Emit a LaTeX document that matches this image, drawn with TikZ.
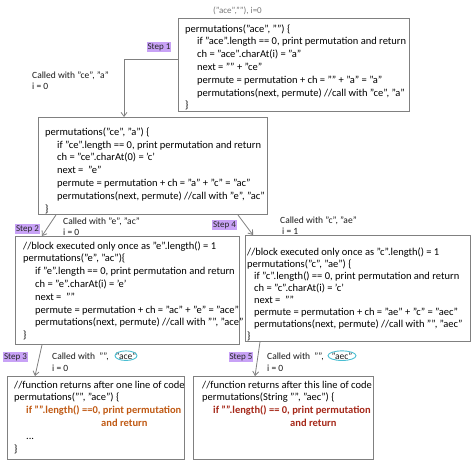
\documentclass[tikz,border=0pt]{standalone}
\usepackage{fontspec}
\setmainfont{Carlito}
\usetikzlibrary{arrows.meta}
\definecolor{boxgray}{RGB}{128,128,128}
\definecolor{steppurple}{RGB}{200,162,246}
\definecolor{ovalcyan}{RGB}{75,190,210}
\definecolor{codeorange}{RGB}{192,90,20}
\definecolor{codered}{RGB}{165,40,25}
\definecolor{notegray}{RGB}{120,120,120}
\newcommand{\ind}{\hspace*{12pt}}
\begin{document}
\begin{tikzpicture}[x=1pt,y=-1pt,
  frame/.style={draw=boxgray, line width=0.9pt, rectangle, anchor=north west, inner sep=0pt},
  code/.style={anchor=base west, inner sep=0pt, align=left, font=\fontsize{10.5}{12.8}\selectfont},
  note/.style={anchor=base west, inner sep=0pt, align=left, font=\fontsize{9.5}{11.8}\selectfont, text=black!90},
  stepbox/.style={fill=steppurple, font=\fontsize{9}{10}\selectfont, inner xsep=1pt, inner ysep=1.5pt, text=black!85},
  conn/.style={draw=boxgray, line width=0.8pt, -{Straight Barb[length=4pt,width=6pt]}},
  ovalc/.style={draw=ovalcyan, line width=0.9pt}
]
\useasboundingbox (0,0) rectangle (474,463);

% frames
\node[frame, minimum width=231pt, minimum height=93pt] (b1) at (178,18) {};
\node[frame, minimum width=229pt, minimum height=97pt] (b2) at (38,117) {};
\node[frame, minimum width=224pt, minimum height=108pt] (b3) at (15,236) {};
\node[frame, minimum width=225pt, minimum height=106pt] (b4) at (245,235) {};
\node[frame, minimum width=177pt, minimum height=83pt] (b5) at (7,376) {};
\node[frame, minimum width=180pt, minimum height=83pt] (b6) at (193,376) {};

% top note
\node[anchor=base west, inner sep=0pt, font=\fontsize{9}{11}\selectfont, text=notegray] (top) at (213,13) {("ace",""), i=0};

% code texts (anchored at the baseline of their last line)
\node[code] (t1) at (185,108.8) {permutations("ace", "") \{\\
\ind if "ace".length == 0, print permutation and return\\
\ind ch = "ace".charAt(i) = "a"\\
\ind next = "" + "ce"\\
\ind permute = permutation + ch = "" + "a" = "a"\\
\ind permutations(next, permute) //call with "ce", "a"\\
\}};

\node[code] (t2) at (45,212) {permutations("ce", "a") \{\\
\ind if "ce".length == 0, print permutation and return\\
\ind ch = "ce".charAt(0) = 'c'\\
\ind next = \ "e"\\
\ind permute = permutation + ch = "a" + "c" = "ac"\\
\ind permutations(next, permute) //call with "e", "ac"\\
\}};

\node[code] (t3) at (23,338.6) {//block executed only once as "e".length() = 1\\
permutations("e", "ac")\{\\
\ind if "e".length == 0, print permutation and return\\
\ind ch = "e".charAt(i) = 'e'\\
\ind next = \ ""\\
\ind permute = permutation + ch = "ac" + "e" = "ace"\\
\ind permutations(next, permute) //call with "", "ace"\\
\}};

\node[code, font=\fontsize{10.5}{12}\selectfont] (t4) at (247,339) {//block executed only once as "c".length() = 1\\
permutations("c", "ae") \{\\
\hspace*{7pt}if "c".length() == 0, print permutation and return\\
\hspace*{7pt}ch = "c".charAt(i) = 'c'\\
\hspace*{7pt}next = \ ""\\
\hspace*{7pt}permute = permutation + ch = "ae" + "c" = "aec"\\
\hspace*{7pt}permutations(next, permute) //call with "", "aec"\\
\}};

\node[code] (t5) at (14,452) {//function returns after one line of code\\
permutations("", "ace") \{\\
\ind\textcolor{codeorange}{\textbf{if "".length() ==0, print permutation}}\\
\hspace*{87pt}\textcolor{codeorange}{\textbf{and return}}\\
\ind ...\\
\}};

\node[code] (t6) at (202,426.4) {//function returns after this line of code\\
permutations(String "", "aec") \{\\
\hspace*{11pt}\textcolor{codered}{\textbf{if "".length() == 0, print permutation}}\\
\hspace*{88pt}\textcolor{codered}{\textbf{and return}}};

% step labels
\node[stepbox] (s1) at (159,47) {Step 1};
\node[stepbox] (s2) at (27.5,229) {Step 2};
\node[stepbox] (s4) at (224.5,225) {Step 4};
\node[stepbox] (s3) at (15.5,357) {Step 3};
\node[stepbox] (s5) at (241,357) {Step 5};

% called-with notes (anchored at the baseline of their last line)
\node[note] (n1) at (32,89.8) {Called with "ce", "a"\\i = 0};
\node[note] (n2) at (63,235.8) {Called with "e", "ac"\\i = 0};
\node[note] (n4) at (280,234.8) {Called with "c", "ae"\\\hspace*{2pt}i = 1};
\node[note] (n3) at (52,359) {Called with \ "",};
\node[note] (n3i) at (52,371) {i = 0};
\node[note, anchor=base] (o3) at (126,359) {"ace"};
\draw[ovalc] (o3.center) ellipse [x radius=11pt, y radius=4.8pt];
\node[note] (n5) at (267,359) {Called with \ "",};
\node[note] (n5i) at (267,371) {i = 0};
\node[note, anchor=base] (o5) at (342,359) {"aec"};
\draw[ovalc] (o5.center) ellipse [x radius=14pt, y radius=4.8pt];

% connectors
\draw[conn] ([yshift=-41pt]b1.north west) -| ([xshift=86pt]b2.north west);
\draw[conn] ([xshift=18pt]b2.south west) -- ([xshift=27pt]b3.north west);
\draw[conn] ([xshift=-30pt]b2.south east) -- ([xshift=8pt]b4.north west);
\draw[conn] ([xshift=27pt]b3.south west) -- ([xshift=28pt]b5.north west);
\draw[conn] ([xshift=15pt]b4.south west) -- ([xshift=62pt]b6.north west);
\end{tikzpicture}
\end{document}
